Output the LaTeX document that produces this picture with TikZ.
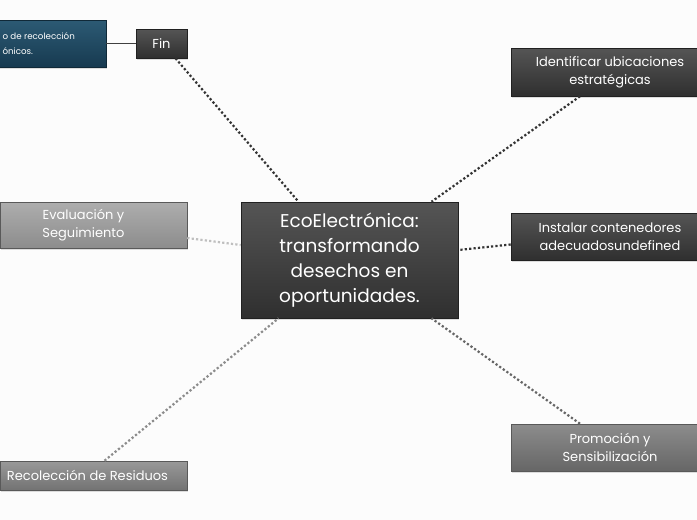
\documentclass[tikz,border=0pt]{standalone}
\usepackage{fontspec}
\setmainfont{Poppins}
\usetikzlibrary{shadows}
\definecolor{bgc}{HTML}{FCFCFC}
\definecolor{darkA}{HTML}{555555}
\definecolor{darkB}{HTML}{2F2F2F}
\definecolor{blueA}{HTML}{2C5A74}
\definecolor{blueB}{HTML}{173A50}
\tikzset{
  box/.style={draw=#1!70!black, line width=0.6pt, inner sep=2pt, align=center, text=white,
    drop shadow={shadow xshift=1pt, shadow yshift=-1.5pt, opacity=0.25}},
  darkbox/.style={box=darkB, top color=darkA, bottom color=darkB},
  midbox/.style={box=gray, top color=black!45, bottom color=black!60},
  lightbox/.style={box=gray, top color=black!32, bottom color=black!45},
  recbox/.style={box=gray, top color=black!40, bottom color=black!55},
  conn/.style={line width=2.2pt, dash pattern=on 2.2pt off 2.2pt, #1},
  lbl/.style={font=\fontsize{13}{18}\selectfont},
}
\begin{document}
\begin{tikzpicture}[x=1pt,y=-1pt]
\fill[bgc] (0,0) rectangle (697,520);
\useasboundingbox (0,0) rectangle (697,520);
\begin{scope}
\clip (0,0) rectangle (697,520);
% nodes
\node[box=blueB, top color=blueA, bottom color=blueB, minimum width=114pt, minimum height=47pt] (blue) at (49,43.5) {};
\node[anchor=west, text=white, font=\fontsize{8.7}{11}\selectfont, align=left] (bluetxt) at (-1,44) {o de recolección\\[4pt]ónicos.};
\node[darkbox, minimum width=51pt, minimum height=29pt, font=\fontsize{13}{15}\selectfont] (fin) at (161.5,43.5) {Fin};
\node[darkbox, minimum width=217pt, minimum height=116pt, font=\fontsize{18.5}{25}\selectfont] (center) at (349.5,260) {EcoElectrónica:\\transformando\\desechos en\\oportunidades.};
\node[darkbox, minimum width=186pt, minimum height=48pt, lbl] (ident) at (604,72) {\hspace*{12pt}Identificar ubicaciones\\\hspace*{12pt}estratégicas};
\node[darkbox, minimum width=186pt, minimum height=47pt, lbl] (inst) at (604,236.5) {\hspace*{12pt}Instalar contenedores\\\hspace*{12pt}adecuadosundefined};
\node[midbox, minimum width=186pt, minimum height=47pt, lbl] (prom) at (604,447.5) {\hspace*{12pt}Promoción y\\\hspace*{12pt}Sensibilización};
\node[lightbox, minimum width=187pt, minimum height=46pt, lbl] (eval) at (93.5,225) {Evaluación y\hspace*{20pt}\\Seguimiento\hspace*{20pt}};
\node[recbox, minimum width=187pt, minimum height=29pt, lbl] (rec) at (93.5,475.5) {Recolección de Residuos\hspace*{12pt}};
% connectors
\draw[line width=1.2pt, black!75] (blue.east) -- (fin.west);
\draw[conn=black!80] ([xshift=14pt]fin.south) -- ([xshift=-51pt]center.north);
\draw[conn=black!80] ([xshift=-24pt]ident.south) -- ([xshift=82pt]center.north);
\draw[conn=black!80] ([yshift=-8pt]inst.west) -- ([yshift=10pt]center.east);
\draw[conn=black!60] ([xshift=-24pt]prom.north) -- ([xshift=82pt]center.south);
\draw[conn=black!25] ([yshift=-13pt]eval.east) -- ([yshift=15pt]center.west);
\draw[conn=black!45] ([xshift=11pt]rec.north) -- ([xshift=-71pt]center.south);
\end{scope}
\end{tikzpicture}
\end{document}
